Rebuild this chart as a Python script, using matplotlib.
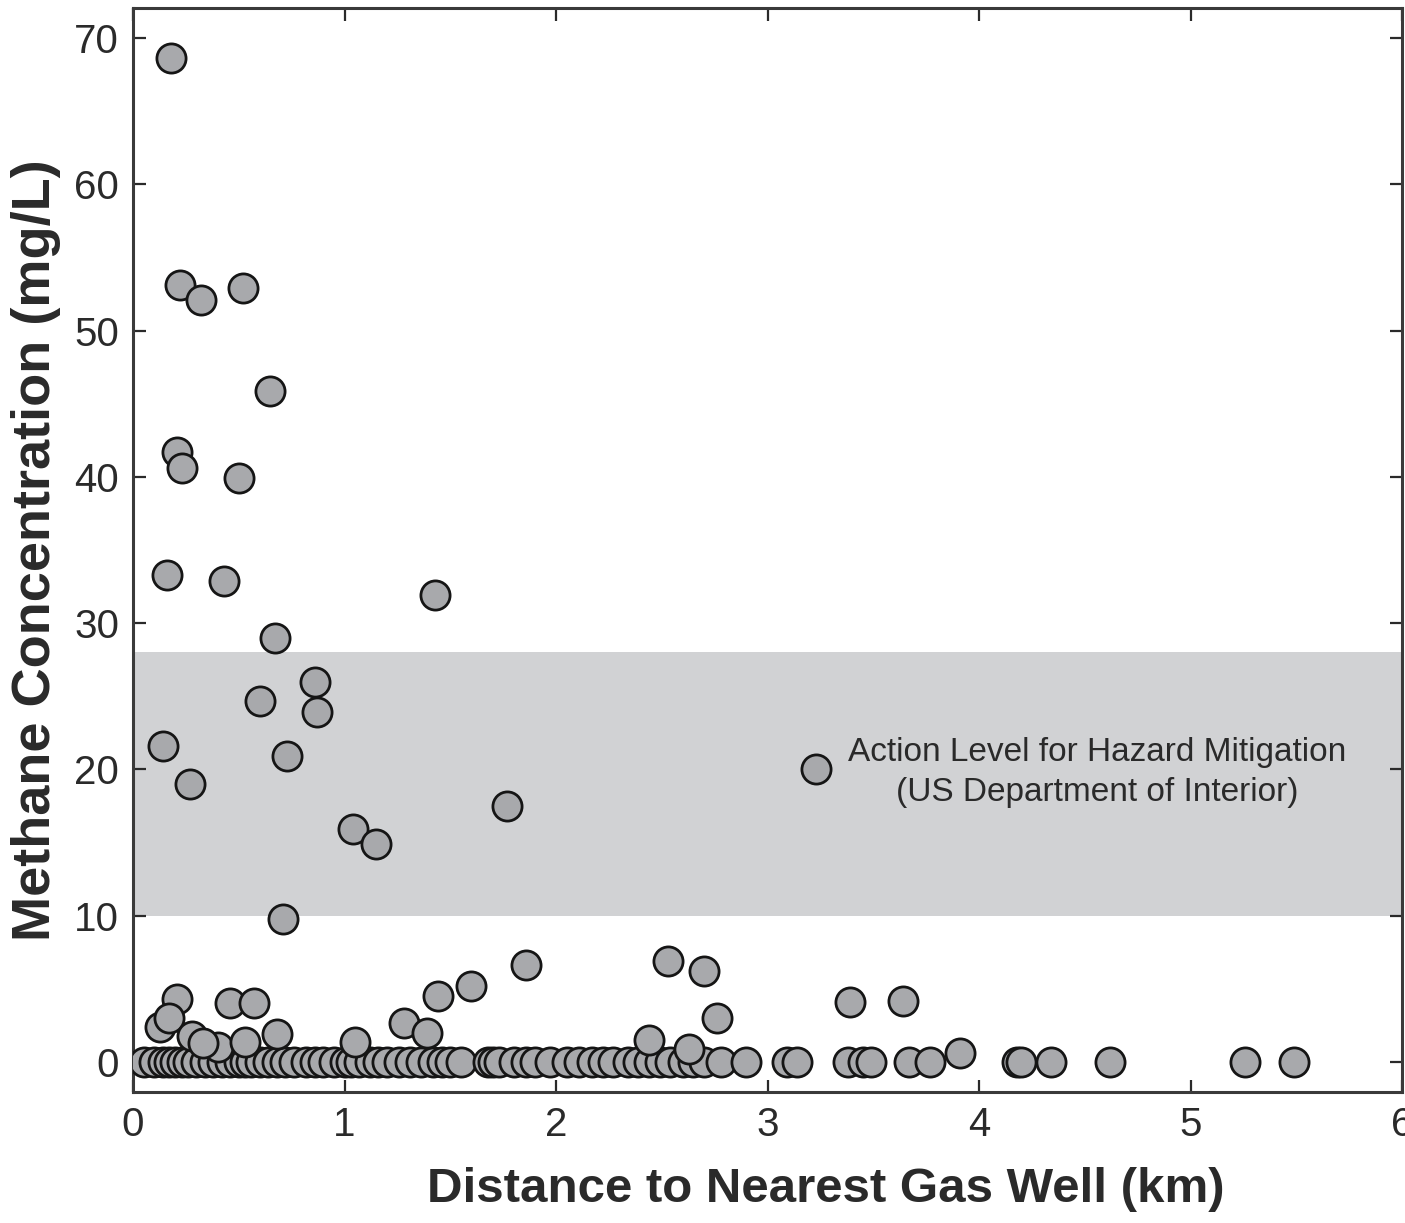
import matplotlib
matplotlib.use("Agg")
import matplotlib.pyplot as plt

# ---- data ----
dist_pos = [0.18, 0.22, 0.32, 0.52, 0.65, 0.21, 0.23, 0.50, 0.16, 0.43, 1.43,
            0.67, 0.86, 0.60, 0.87, 0.73, 0.14, 0.27, 1.04, 1.15, 0.71, 1.77,
            3.23, 1.86, 2.53, 2.70, 2.76, 3.39, 3.64, 1.60, 1.44, 1.28, 1.39,
            0.21, 0.46, 0.57, 0.13, 0.17, 0.28, 0.40, 0.53, 0.68, 1.05, 2.44,
            2.63, 3.91, 0.33]
meth_pos = [68.6, 53.1, 52.1, 52.9, 45.9, 41.7, 40.6, 39.9, 33.3, 32.9, 31.9,
            29.0, 26.0, 24.7, 23.9, 20.9, 21.6, 19.0, 15.9, 14.9, 9.8, 17.5,
            20.0, 6.6, 6.9, 6.2, 3.0, 4.1, 4.2, 5.2, 4.5, 2.7, 2.0,
            4.3, 4.0, 4.0, 2.4, 3.0, 1.8, 1.0, 1.4, 1.9, 1.4, 1.5,
            0.9, 0.6, 1.3]

dist_zero = [0.05, 0.10, 0.14, 0.17, 0.20, 0.23, 0.26, 0.30, 0.34, 0.38, 0.42,
             0.46, 0.50, 0.53, 0.56, 0.60, 0.64, 0.68, 0.72, 0.76, 0.82, 0.86,
             0.90, 0.95, 1.00, 1.03, 1.07, 1.12, 1.16, 1.20, 1.26, 1.31, 1.36,
             1.42, 1.46, 1.50, 1.55, 1.68, 1.70, 1.73, 1.80, 1.86, 1.90, 1.97,
             2.05, 2.11, 2.17, 2.22, 2.27, 2.34, 2.39, 2.44, 2.49, 2.54, 2.60,
             2.65, 2.70, 2.78, 2.90, 3.09, 3.14, 3.38, 3.45, 3.49, 3.67, 3.77,
             4.18, 4.20, 4.34, 4.62, 5.26, 5.49]
meth_zero = [0.0] * len(dist_zero)

band_low, band_high = 10, 28
xticks = [0, 1, 2, 3, 4, 5, 6]
yticks = [0, 10, 20, 30, 40, 50, 60, 70]

# ---- plot ----
plt.rcParams['font.family'] = ['Liberation Sans', 'DejaVu Sans']
fig = plt.figure(figsize=(14.05, 12.23), dpi=100)
W, H = 1405, 1223
ax = fig.add_axes([133 / W, 1 - 1092 / H, (1402 - 133) / W, (1092 - 8) / H])

ax.axhspan(band_low, band_high, color='#d1d2d4', zorder=0, lw=0)

mk = dict(linestyle='none', marker='o', markersize=21, markerfacecolor='#a8a9ac',
          markeredgecolor='#151515', markeredgewidth=2.0, zorder=3)
ax.plot(dist_zero, meth_zero, **mk)
ax.plot(dist_pos, meth_pos, **mk)

ax.text(4.56, 19.8, "Action Level for Hazard Mitigation\n(US Department of Interior)",
        ha='center', va='center', fontsize=24, color='#2a2a2a', linespacing=1.4,
        zorder=4)

ax.set_xlim(0, 6)
ax.set_ylim(-2.05, 72.05)
ax.set_xticks(xticks)
ax.set_yticks(yticks)
ax.tick_params(direction='in', length=9, width=1.6, colors='#2a2a2a',
               labelsize=29, top=True, right=True, pad=10)
for s in ax.spines.values():
    s.set_linewidth(2.2)
    s.set_color('#3a3a3a')

ax.set_xlabel("Distance to Nearest Gas Well (km)", fontsize=35.5, fontweight='bold',
              color='#2a2a2a')
ax.xaxis.set_label_coords((826 - 133) / 1269, -(1190 - 1092) / 1084)
ax.xaxis.label.set_va('center')
ax.set_ylabel("Methane Concentration (mg/L)", fontsize=39, fontweight='bold',
              color='#2a2a2a')
ax.yaxis.set_label_coords(-(133 - 36) / 1269, (1092 - 550) / 1084)
ax.yaxis.label.set_va('center')

fig.savefig("out.png", dpi=100)
